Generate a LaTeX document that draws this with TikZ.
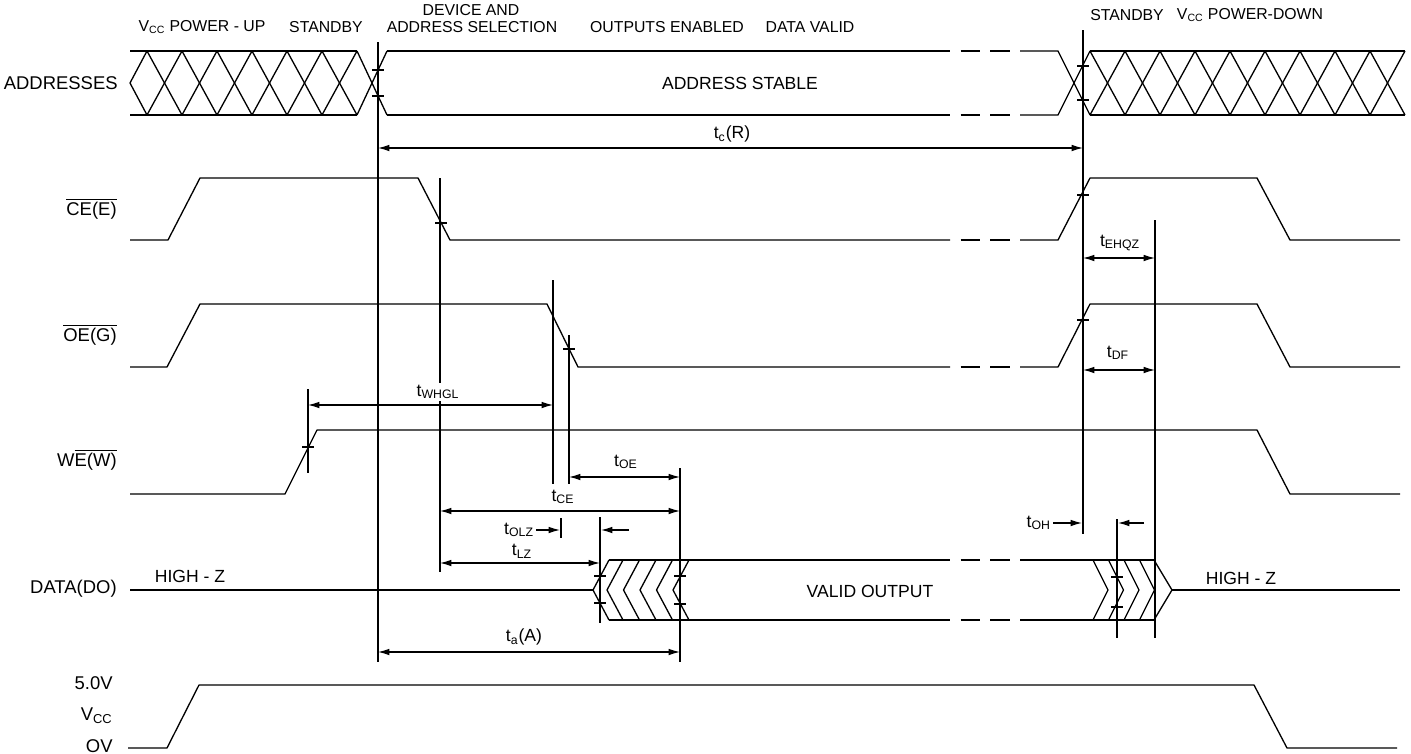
\documentclass[tikz,border=0pt]{standalone}
\usepackage{fontspec}
\setmainfont{Liberation Sans}
\usetikzlibrary{arrows.meta}

\newcommand{\tickmark}[2]{\draw[wave] (#1-6,#2) -- (#1+6,#2);}

\begin{document}
\begin{tikzpicture}[x=0.02cm, y=-0.02cm]
% Styles
\tikzstyle{wave} = [line width=0.75pt, line join=round]
\tikzstyle{guide} = [line width=0.7pt]
\tikzstyle{brk} = [line width=0.75pt, dash pattern=on 11pt off 6pt, dash phase=11pt]
\tikzstyle{dimarrow} = [line width=0.7pt, {Latex[length=6.5pt,width=3.8pt]}-{Latex[length=6.5pt,width=3.8pt]}]
\tikzstyle{onearrow} = [line width=0.7pt, -{Latex[length=6.5pt,width=3.8pt]}]
\tikzstyle{sig} = [anchor=east, font=\fontsize{10.5}{12}\selectfont, inner sep=0pt]
\tikzstyle{phase} = [font=\fontsize{9}{11}\selectfont, inner sep=0pt]
\tikzstyle{tlabel} = [font=\fontsize{10}{12}\selectfont, inner sep=1pt]

\useasboundingbox (0,0) rectangle (1411,754);

% Signal names
\node [sig] (addr) at (118,83) {ADDRESSES};
\node [sig] (ce) at (117,209) {$\overline{\mbox{CE(E)}}$};
\node [sig] (oe) at (117,335) {$\overline{\mbox{OE(G)}}$};
\node [sig] (we) at (117,460) {W$\overline{\mbox{E(W)}}$};
\node [sig] (data) at (117,589) {DATA(DO)};
\node [sig] (vhi) at (113,683) {5.0V};
\node [sig] (vcc) at (113,716) {V\textsubscript{CC}};
\node [sig] (vlo) at (113,746) {OV};

% Phases
\node [phase] (pup) at (202,27) {V\textsubscript{CC} POWER - UP};
\node [phase] (sby1) at (326,27) {STANDBY};
\node [phase] (dev) at (471,10) {DEVICE AND};
\node [phase] (sel) at (472,27) {ADDRESS SELECTION};
\node [phase] (oen) at (667,27) {OUTPUTS ENABLED};
\node [phase] (dval) at (810,27) {DATA VALID};
\node [phase] (sby2) at (1127,15) {STANDBY};
\node [phase] (pdn) at (1250,15) {V\textsubscript{CC} POWER-DOWN};

% Addresses
\draw [wave] (130,51) -- (357,51);
\draw [wave] (130,115) -- (357,115);
\draw [wave] (147,51) -- (130,83) -- (147,115);
\foreach \x in {147,182,...,322} {
  \draw [wave] (\x,51) -- (\x+35,115);
  \draw [wave] (\x,115) -- (\x+35,51);
}
\draw [wave] (357,51) -- (387,115);
\draw [wave] (357,115) -- (387,51);
\draw [wave] (387,51) -- (950,51);
\draw [wave] (387,115) -- (950,115);
\draw [brk] (950,51) -- (1020,51);
\draw [brk] (950,115) -- (1020,115);
\draw [wave] (1020,51) -- (1058,51) -- (1090,115);
\draw [wave] (1020,115) -- (1058,115) -- (1090,51);
\draw [wave] (1090,51) -- (1405,51);
\draw [wave] (1090,115) -- (1405,115);
\foreach \x in {1090,1125,...,1370} {
  \draw [wave] (\x,51) -- (\x+35,115);
  \draw [wave] (\x,115) -- (\x+35,51);
}
\node [tlabel] (stable) at (740,83) {ADDRESS STABLE};

% CE
\draw [wave] (130,240) -- (168,240) -- (200,178) -- (418,178) -- (450,240) -- (950,240);
\draw [brk] (950,240) -- (1020,240);
\draw [wave] (1020,240) -- (1058,240) -- (1090,178) -- (1257,178) -- (1290,240) -- (1400,240);

% OE
\draw [wave] (130,367) -- (167,367) -- (200,304) -- (547,304) -- (578,367) -- (950,367);
\draw [brk] (950,367) -- (1020,367);
\draw [wave] (1020,367) -- (1058,367) -- (1090,304) -- (1257,304) -- (1290,367) -- (1400,367);

% WE
\draw [wave] (130,494) -- (285,494) -- (317,430) -- (1257,430) -- (1290,494) -- (1400,494);

% Data
\draw [wave] (130,590) -- (593,590);
\draw [wave] (609,560) -- (593,590) -- (609,620);
\foreach \x in {607,623.5,640,656.5,673}
  \draw [wave] (\x+16,560) -- (\x,590) -- (\x+16,620);
\draw [wave] (609,560) -- (950,560);
\draw [wave] (609,620) -- (950,620);
\draw [brk] (950,560) -- (1020,560);
\draw [brk] (950,620) -- (1020,620);
\draw [wave] (1020,560) -- (1154,560);
\draw [wave] (1020,620) -- (1154,620);
\foreach \x in {1093,1108.5,1124,1139.5}
  \draw [wave] (\x,560) -- (\x+15,590) -- (\x,620);
\draw [wave] (1154,560) -- (1172,590) -- (1154,620);
\draw [wave] (1172,590) -- (1400,590);
\node [tlabel] (hiz1) at (190,576) {HIGH - Z};
\node [tlabel] (valid) at (870,591) {VALID OUTPUT};
\node [tlabel] (hiz2) at (1241,578) {HIGH - Z};

% Vcc
\draw [wave] (128,748) -- (167,748) -- (199,685) -- (1254,685) -- (1287,748) -- (1397,748);

% Guide lines
\draw [guide] (378,42) -- (378,662);
\draw [guide] (440,178) -- (440,572);
\draw [guide] (553,280) -- (553,484);
\draw [guide] (569,335) -- (569,484);
\draw [guide] (308,389) -- (308,473);
\draw [guide] (561,518) -- (561,538);
\draw [guide] (600,517) -- (600,623);
\draw [guide] (680,468) -- (680,662);
\draw [guide] (1083,30) -- (1083,534);
\draw [guide] (1155,220) -- (1155,638);
\draw [guide] (1117,519) -- (1117,638);

% Crossing marks
\tickmark{378}{70}
\tickmark{378}{96}
\tickmark{1083}{66}
\tickmark{1083}{100}
\tickmark{441}{223}
\tickmark{569}{349}
\tickmark{308}{447}
\tickmark{1083}{195}
\tickmark{1083}{320}
\tickmark{600}{576}
\tickmark{600}{603}
\tickmark{680}{576}
\tickmark{680}{604}
\tickmark{1117}{577}
\tickmark{1117}{607}

% Timing arrows
\coordinate (tcR-l) at (378,148);
\coordinate (tcR-r) at (1083,148);
\draw [dimarrow] (tcR-l) -- (tcR-r);
\node [tlabel] (tcR) at (732,134) {t\textsubscript{c}(R)};

\coordinate (tEHQZ-l) at (1083,258);
\coordinate (tEHQZ-r) at (1155,258);
\draw [dimarrow] (tEHQZ-l) -- (tEHQZ-r);
\node [tlabel] (tEHQZ) at (1120,243) {t\textsubscript{EHQZ}};

\coordinate (tDF-l) at (1083,370);
\coordinate (tDF-r) at (1155,370);
\draw [dimarrow] (tDF-l) -- (tDF-r);
\node [tlabel] (tDF) at (1118,353) {t\textsubscript{DF}};

\coordinate (tWHGL-l) at (308,405);
\coordinate (tWHGL-r) at (553,405);
\draw [dimarrow] (tWHGL-l) -- (tWHGL-r);
\node [tlabel, fill=white] (tWHGL) at (438,392) {t\textsubscript{WHGL}};

\coordinate (tOE-l) at (569,477);
\coordinate (tOE-r) at (680,477);
\draw [dimarrow] (tOE-l) -- (tOE-r);
\node [tlabel] (tOE) at (626,462) {t\textsubscript{OE}};

\coordinate (tCE-l) at (440,511);
\coordinate (tCE-r) at (680,511);
\draw [dimarrow] (tCE-l) -- (tCE-r);
\node [tlabel] (tCE) at (563,497) {t\textsubscript{CE}};

\node [tlabel, anchor=east] (tOLZ) at (536,530) {t\textsubscript{OLZ}};
\coordinate (tOLZ-r) at (560,530);
\draw [onearrow] (tOLZ) -- (tOLZ-r);
\coordinate (tOLZ-b) at (629,530);
\coordinate (tOLZ-c) at (601,530);
\draw [onearrow] (tOLZ-b) -- (tOLZ-c);

\coordinate (tLZ-l) at (440,563);
\coordinate (tLZ-r) at (600,563);
\draw [dimarrow] (tLZ-l) -- (tLZ-r);
\node [tlabel] (tLZ) at (522,551) {t\textsubscript{LZ}};

\coordinate (taA-l) at (378,652);
\coordinate (taA-r) at (680,652);
\draw [dimarrow] (taA-l) -- (taA-r);
\node [tlabel] (taA) at (524,637) {t\textsubscript{a}(A)};

\node [tlabel, anchor=east] (tOH) at (1053,523) {t\textsubscript{OH}};
\coordinate (tOH-r) at (1082,523);
\draw [onearrow] (tOH) -- (tOH-r);
\coordinate (tOH-b) at (1144,523);
\coordinate (tOH-c) at (1118,523);
\draw [onearrow] (tOH-b) -- (tOH-c);
\end{tikzpicture}
\end{document}
